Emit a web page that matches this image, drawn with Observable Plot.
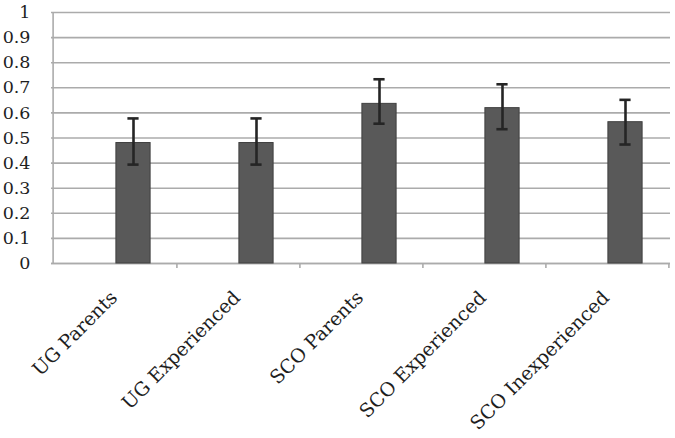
<!DOCTYPE html>
<html>
<head>
<meta charset="utf-8">
<script src="https://cdn.jsdelivr.net/npm/d3@7"></script>
<script src="https://cdn.jsdelivr.net/npm/@observablehq/plot@0.6"></script>
<style>
  html, body { margin: 0; padding: 0; background: #fff; }
  #chart svg { display: block; }
</style>
</head>
<body>
<div id="chart"></div>
<script>
const categories = ["UG Parents", "UG Experienced", "SCO Parents", "SCO Experienced", "SCO Inexperienced"];
const means = [0.48, 0.48, 0.636, 0.619, 0.563];
const upper = [0.578, 0.578, 0.734, 0.714, 0.652];
const lower = [0.394, 0.394, 0.557, 0.535, 0.474];
const yTicks = [0, 0.1, 0.2, 0.3, 0.4, 0.5, 0.6, 0.7, 0.8, 0.9, 1];

const data = categories.map((c, i) => ({cat: c, mean: means[i], hi: upper[i], lo: lower[i]}));

const W = 675, H = 438;
const mL = 51, mR = 5, mT = 12, mB = 175;
const bw = (W - mL - mR) / categories.length;
const serif = "DejaVu Serif";
const gridColor = "#ababab";
const textColor = "#1e1e1e";

const chart = Plot.plot({
  width: W,
  height: H,
  marginLeft: mL,
  marginRight: mR,
  marginTop: mT,
  marginBottom: mB,
  style: {fontFamily: serif, background: "#fff"},
  x: {type: "band", domain: categories, padding: 0, axis: null},
  y: {domain: [0, 1], axis: null},
  marks: [
    Plot.gridY(yTicks, {stroke: gridColor, strokeOpacity: 1, strokeWidth: 1.6}),
    // y tick marks (left of axis)
    Plot.tickY(yTicks, {y: d => d, x: categories[0], insetRight: bw, insetLeft: -7, stroke: gridColor, strokeWidth: 1.6}),
    // y tick labels
    Plot.text(yTicks, {
      y: d => d, text: d3.format("~g"), frameAnchor: "left", dx: -21,
      textAnchor: "end", fontSize: 17.5, fontFamily: serif, fill: textColor
    }),
    // left axis line
    Plot.ruleX([categories[0]], {x: d => d, y1: 0, y2: 1, dx: -bw / 2, stroke: gridColor, strokeWidth: 1.6}),
    // baseline
    Plot.ruleY([0], {stroke: gridColor, strokeWidth: 1.6}),
    // category boundary ticks
    Plot.ruleX(categories, {x: d => d, y1: 0, y2: 0, insetBottom: -5, dx: bw / 2, stroke: gridColor, strokeWidth: 1.6}),
    Plot.barY(data, {
      x: "cat", y: "mean",
      fill: "#595959", stroke: "#404040", strokeWidth: 1,
      insetLeft: bw / 2 + 1, insetRight: bw / 2 - 36
    }),
    Plot.ruleX(data, {x: "cat", y1: "lo", y2: "hi", dx: 18.5, stroke: "#252525", strokeWidth: 2.6}),
    Plot.tickY(data, {x: "cat", y: "hi", insetLeft: bw / 2 + 12.5, insetRight: bw / 2 - 24.5, stroke: "#252525", strokeWidth: 2.6}),
    Plot.tickY(data, {x: "cat", y: "lo", insetLeft: bw / 2 + 12.5, insetRight: bw / 2 - 24.5, stroke: "#252525", strokeWidth: 2.6}),
    Plot.text(categories, {
      x: d => d, frameAnchor: "bottom", dy: 31, dx: -1,
      rotate: -45, textAnchor: "end", lineAnchor: "middle",
      fontSize: 19, fontFamily: serif, fill: textColor
    })
  ]
});

document.getElementById("chart").appendChild(chart);
</script>
</body>
</html>
